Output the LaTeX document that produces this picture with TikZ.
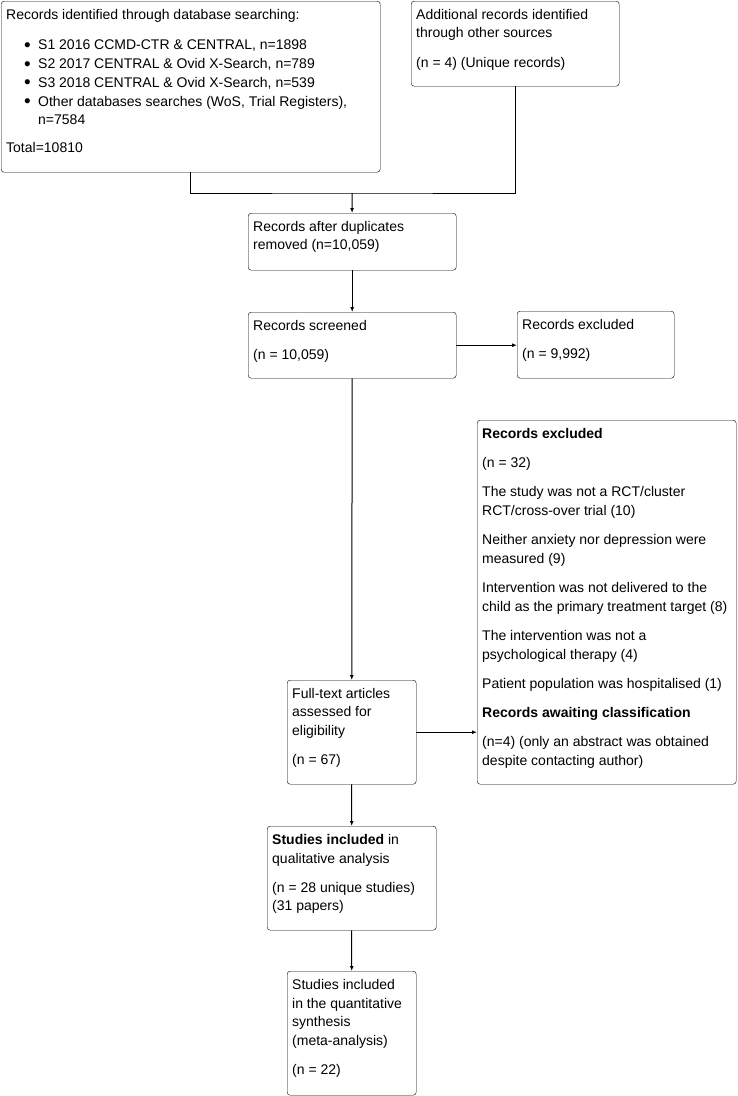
\documentclass[tikz,border=0pt]{standalone}
\usepackage{fontspec}
\setmainfont{Liberation Sans}
\usetikzlibrary{arrows.meta,positioning}
\tikzset{>={Latex[length=5bp,width=4bp]},line width=1bp,
  every node/.style={font=\fontsize{14bp}{18.7bp}\selectfont},
  box/.style={draw,rounded corners=3bp,anchor=north west,inner sep=5bp},
  link/.style={draw,line width=1bp}}
\newcommand{\boxtext}[3]{\parbox[t][#2][t]{#1}{\raggedright\strut#3}}
\newcommand{\gap}{\\[10.5bp]}
\newcommand{\dbitem}[1]{\hspace*{18bp}\makebox[14bp][l]{\smash{\raisebox{-1.6bp}{\scalebox{1.35}{\textbullet}}}}#1}

\begin{document}
\begin{tikzpicture}[x=1bp,y=-1bp]
\useasboundingbox (0,0) rectangle (738,1096);
\node[box] (db) at (1,1) {\boxtext{369bp}{161bp}{Records identified through database searching:\\[12bp]
\dbitem{S1 2016 CCMD-CTR \& CENTRAL, n=1898}\\
\dbitem{S2 2017 CENTRAL \& Ovid X-Search, n=789}\\
\dbitem{S3 2018 CENTRAL \& Ovid X-Search, n=539}\\
\dbitem{Other databases searches (WoS, Trial Registers),}\\
\hspace*{32bp}n=7584\\[9bp]
Total=10810}};
\node[box] (other) at (411,1) {\boxtext{198bp}{75bp}{Additional records identified\\ through other sources\gap (n = 4) (Unique records)}};
\node[box] (dup) at (248,213) {\boxtext{198bp}{47bp}{Records after duplicates\\ removed (n=10,059)}};
\node[box] (scr) at (248,312) {\boxtext{198bp}{56bp}{Records screened\gap (n = 10,059)}};
\node[box] (exc1) at (517,311) {\boxtext{147bp}{57bp}{Records excluded\gap (n = 9,992)}};
\node[box] (exc2) at (477,420) {\boxtext{249bp}{354bp}{\textbf{Records excluded}\gap
(n = 32)\gap
The study was not a RCT/cluster\\ RCT/cross-over trial (10)\gap
Neither anxiety nor depression were\\ measured (9)\gap
Intervention was not delivered to the\\ child as the primary treatment target (8)\gap
The intervention was not a\\ psychological therapy (4)\gap
Patient population was hospitalised (1)\gap
\textbf{Records awaiting classification}\gap
(n=4) (only an abstract was obtained\\ despite contacting author)}};
\node[box] (full) at (287,680) {\boxtext{119bp}{94bp}{Full-text articles\\ assessed for\\ eligibility\gap (n = 67)}};
\node[box] (incl) at (267,826) {\boxtext{159bp}{94bp}{\textbf{Studies included} in\\ qualitative analysis\gap (n = 28 unique studies)\\ (31 papers)}};
\node[box] (quant) at (287,971) {\boxtext{119bp}{114bp}{Studies included\\ in the quantitative\\ synthesis\\ (meta-analysis)\gap (n = 22)}};
\coordinate (merge) at (352,193);
% merge the two sources
\draw[link] (db.south) |- (merge) -| (other.south);
\draw[link,->] (merge) -- (dup);
\draw[link,->] (dup) -- (scr);
\draw[link,->] (scr.east) -- (scr.east -| exc1.west);
\draw[link,->] (scr) -- (full);
\draw[link,->] (full.east) -- (full.east -| exc2.west);
\draw[link,->] (full) -- (incl);
\draw[link,->] (incl) -- (quant);
\end{tikzpicture}
\end{document}
